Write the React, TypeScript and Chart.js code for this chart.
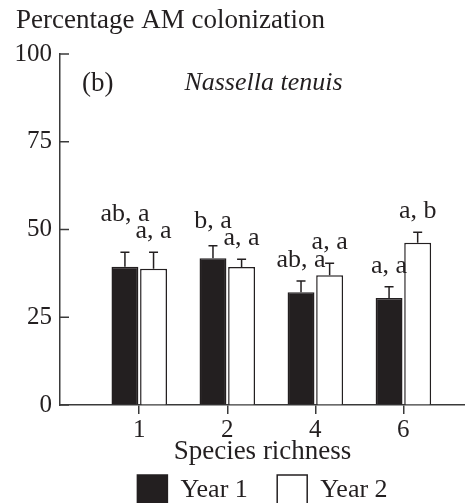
import React, { useEffect, useRef } from 'react';
import { Chart, registerables } from 'chart.js';

Chart.register(...registerables);

// ---- data ----
const richness = ['1', '2', '4', '6'];
const positions = [0, 1, 2, 3];
const seriesNames = ['Year 1', 'Year 2'];
const year1 = [39.4, 41.8, 32.1, 30.5];
const year1Err = [4.1, 3.6, 3.2, 3.2];
const year2 = [38.8, 39.3, 37.0, 46.2];
const year2Err = [4.7, 2.2, 3.4, 3.0];
const year1Letters = ['ab, a', 'b, a', 'ab, a', 'a, a'];
const year2Letters = ['a, a', 'a, a', 'a, a', 'a, b'];
const yTicks = [0, 25, 50, 75, 100];

const INK = '#231f20';
const AXIS = '#3a3a3a';
const FAMILY = "'Liberation Serif', 'Times New Roman', serif";

const errorBarsAndLetters = {
  id: 'errorBarsAndLetters',
  afterDatasetsDraw(chart: any) {
    const ctx = chart.ctx;
    const y = chart.scales.y;
    const values = [year1, year2];
    const errs = [year1Err, year2Err];
    ctx.save();
    ctx.strokeStyle = INK;
    ctx.lineWidth = 1.5;
    [0, 1].forEach((di) => {
      const meta = chart.getDatasetMeta(di);
      meta.data.forEach((bar: any, i: number) => {
        const top = y.getPixelForValue(values[di][i] + errs[di][i]);
        ctx.beginPath();
        ctx.moveTo(bar.x, bar.y);
        ctx.lineTo(bar.x, top);
        ctx.moveTo(bar.x - 4.5, top);
        ctx.lineTo(bar.x + 4.5, top);
        ctx.stroke();
      });
    });
    // significance letters
    ctx.font = `26px ${FAMILY}`;
    ctx.fillStyle = INK;
    ctx.textAlign = 'center';
    ctx.textBaseline = 'alphabetic';
    const gap = 14;
    const stackGap = 17;
    const m0 = chart.getDatasetMeta(0).data;
    const m1 = chart.getDatasetMeta(1).data;
    positions.forEach((_, i) => {
      let b0 = y.getPixelForValue(year1[i] + year1Err[i]) - gap;
      let b1 = y.getPixelForValue(year2[i] + year2Err[i]) - gap;
      const w0 = ctx.measureText(year1Letters[i]).width;
      const w1 = ctx.measureText(year2Letters[i]).width;
      const overlap = m0[i].x + w0 / 2 > m1[i].x - w1 / 2;
      if (overlap && Math.abs(b0 - b1) < stackGap) {
        if (b0 <= b1) b0 = b1 - stackGap;
        else b1 = b0 - stackGap;
      }
      ctx.fillText(year1Letters[i], m0[i].x, b0);
      ctx.fillText(year2Letters[i], m1[i].x, b1);
    });
    ctx.restore();
  },
};

const innerTicks = {
  id: 'innerTicks',
  afterDraw(chart: any) {
    const ctx = chart.ctx;
    const y = chart.scales.y;
    const left = chart.chartArea.left;
    ctx.save();
    ctx.strokeStyle = AXIS;
    ctx.lineWidth = 1.5;
    y.ticks.forEach((t: any) => {
      const p = y.getPixelForValue(t.value);
      ctx.beginPath();
      ctx.moveTo(left, p);
      ctx.lineTo(left + 9, p);
      ctx.stroke();
    });
    ctx.restore();
  },
};

const panelLabels = {
  id: 'panelLabels',
  afterDraw(chart: any) {
    const ctx = chart.ctx;
    const a = chart.chartArea;
    ctx.save();
    ctx.fillStyle = INK;
    ctx.textBaseline = 'alphabetic';
    ctx.font = `27px ${FAMILY}`;
    ctx.textAlign = 'left';
    ctx.fillText('(b)', a.left + 22, a.top + 36.5);
    ctx.font = `italic 26px ${FAMILY}`;
    ctx.textAlign = 'center';
    ctx.fillText('Nassella tenuis', (a.left + a.right) / 2 + 1, a.top + 36);
    ctx.restore();
  },
};

export default function App() {
  const ref = useRef<HTMLCanvasElement>(null);

  useEffect(() => {
    const canvas = ref.current;
    if (!canvas) return;
    const chart = new Chart(canvas, {
      type: 'bar',
      data: {
        datasets: [
          {
            label: seriesNames[0],
            data: positions.map((p, i) => ({ x: p, y: year1[i] })),
            backgroundColor: INK,
            borderColor: INK,
            borderWidth: 1.5,
            categoryPercentage: 0.65,
            barPercentage: 0.94,
          },
          {
            label: seriesNames[1],
            data: positions.map((p, i) => ({ x: p, y: year2[i] })),
            backgroundColor: '#ffffff',
            borderColor: INK,
            borderWidth: 1.5,
            categoryPercentage: 0.65,
            barPercentage: 0.94,
          },
        ],
      } as any,
      options: {
        responsive: false,
        animation: false,
        devicePixelRatio: 1,
        layout: { padding: { left: 16, right: 0, top: 0, bottom: 0 } },
        scales: {
          x: {
            type: 'linear',
            min: -0.9,
            max: 3.7,
            offset: false,
            afterBuildTicks: (s: any) => {
              s.ticks = positions.map((v) => ({ value: v }));
            },
            afterFit: (s: any) => {
              s.height = 40.6;
            },
            ticks: {
              callback: (v: any) => richness[v] ?? '',
              font: { family: FAMILY, size: 25 },
              color: INK,
              padding: 1.6,
              maxRotation: 0,
              autoSkip: false,
            },
            grid: {
              offset: false,
              drawOnChartArea: false,
              drawTicks: true,
              tickLength: 9,
              color: AXIS,
              lineWidth: 1.5,
            },
            border: { display: true, color: AXIS, width: 1.5 },
            title: {
              display: true,
              text: 'Species richness',
              font: { family: FAMILY, size: 27 },
              color: INK,
              padding: { top: 0, bottom: -22.2 },
            },
          },
          y: {
            min: 0,
            max: 100,
            afterBuildTicks: (s: any) => {
              s.ticks = yTicks.map((v) => ({ value: v }));
            },
            afterFit: (s: any) => {
              s.width = 44;
            },
            ticks: {
              font: { family: FAMILY, size: 25 },
              color: INK,
              padding: 8,
            },
            grid: { drawOnChartArea: false, drawTicks: false },
            border: { display: true, color: AXIS, width: 1.5 },
          },
        } as any,
        plugins: {
          legend: {
            position: 'bottom',
            fullSize: false,
            labels: {
              boxWidth: 30,
              boxHeight: 30,
              padding: 29.4,
              font: { family: FAMILY, size: 26 },
              color: INK,
            },
          },
          title: {
            display: true,
            text: 'Percentage AM colonization',
            align: 'start',
            font: { family: FAMILY, size: 27, weight: 'normal' },
            color: INK,
            padding: { top: 4.7, bottom: 16.9 },
          },
          tooltip: { enabled: false },
        } as any,
      },
      plugins: [errorBarsAndLetters, innerTicks, panelLabels],
    });
    return () => chart.destroy();
  }, []);

  return (
    <div
      style={{
        position: 'fixed',
        left: 0,
        top: 0,
        width: 465,
        height: 503,
        overflow: 'hidden',
        background: '#ffffff',
      }}
    >
      <canvas ref={ref} width={465} height={515} style={{ display: 'block' }} />
    </div>
  );
}
